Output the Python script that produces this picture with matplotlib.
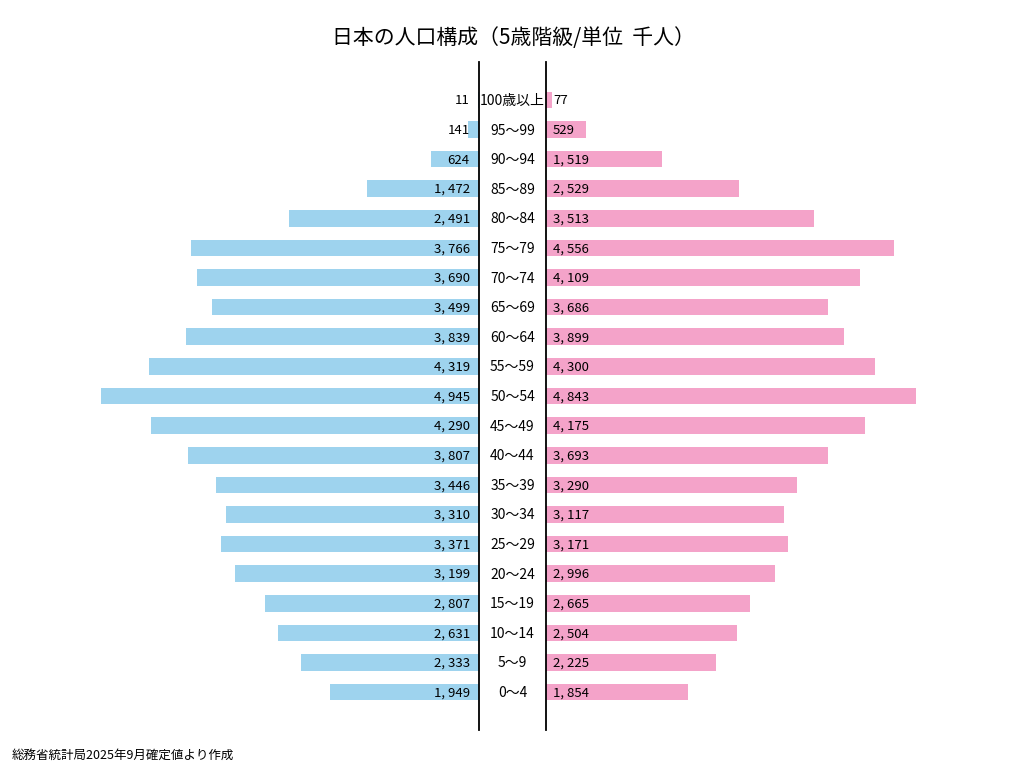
import matplotlib
matplotlib.use("Agg")
import matplotlib.pyplot as plt

plt.rcParams['font.family'] = ['Noto Sans CJK JP', 'DejaVu Sans']

# age groups, youngest first
ages = ['0～4', '5～9', '10～14', '15～19', '20～24', '25～29', '30～34',
        '35～39', '40～44', '45～49', '50～54', '55～59', '60～64', '65～69',
        '70～74', '75～79', '80～84', '85～89', '90～94', '95～99', '100歳以上']
male = [1949, 2333, 2631, 2807, 3199, 3371, 3310, 3446, 3807, 4290, 4945,
        4319, 3839, 3499, 3690, 3766, 2491, 1472, 624, 141, 11]
female = [1854, 2225, 2504, 2665, 2996, 3171, 3117, 3290, 3693, 4175, 4843,
          4300, 3899, 3686, 4109, 4556, 3513, 2529, 1519, 529, 77]

BLUE = '#9ed3ee'
PINK = '#f4a3c9'
W, H = 1024, 768
XMAX = 5500

fig = plt.figure(figsize=(W / 100, H / 100), dpi=100)

# axes in pixel coords: left panel ends at the left line, right starts at the right line
def px_axes(x0, x1, y0, y1):
    return fig.add_axes([x0 / W, 1 - y1 / H, (x1 - x0) / W, (y1 - y0) / H])

axL = px_axes(479 - XMAX * 0.0764, 479, 62, 730)
axR = px_axes(546, 546 + XMAX * 0.0764, 62, 730)

ys = list(range(len(ages)))
ylim = (-1.28, len(ages) - 1 + 1.28)

axL.barh(ys, male, height=0.56, color=BLUE)
axR.barh(ys, female, height=0.56, color=PINK)

axL.set_xlim(XMAX, 0)
axR.set_xlim(0, XMAX)
for ax in (axL, axR):
    ax.set_ylim(ylim)
    ax.set_xticks([])
    ax.set_yticks([])
    for s in ax.spines.values():
        s.set_visible(False)
axL.spines['right'].set_visible(True)
axR.spines['left'].set_visible(True)
axL.spines['right'].set_linewidth(1.3)
axR.spines['left'].set_linewidth(1.3)

for y, m, f in zip(ys, male, female):
    axL.text(120, y - 0.03, f'{m:,}'.replace(',', ', '), ha='right', va='center', fontsize=9.5)
    axR.text(90, y - 0.03, f'{f:,}'.replace(',', ', '), ha='left', va='center', fontsize=9.5)

# center age labels between the two lines
for y, a in zip(ys, ages):
    yp = 62 + (ylim[1] - y) / (ylim[1] - ylim[0]) * (730 - 62)
    fig.text(512.5 / W, 1 - (yp + 1) / H, a, ha='center', va='center', fontsize=10)

fig.text(513 / W, 1 - 38 / H, '日本の人口構成（5歳階級/単位  千人）',
         ha='center', va='center', fontsize=15)
fig.text(12 / W, 1 - 755 / H, '総務省統計局2025年9月確定値より作成',
         ha='left', va='center', fontsize=9)

fig.savefig('out.png', dpi=100)
